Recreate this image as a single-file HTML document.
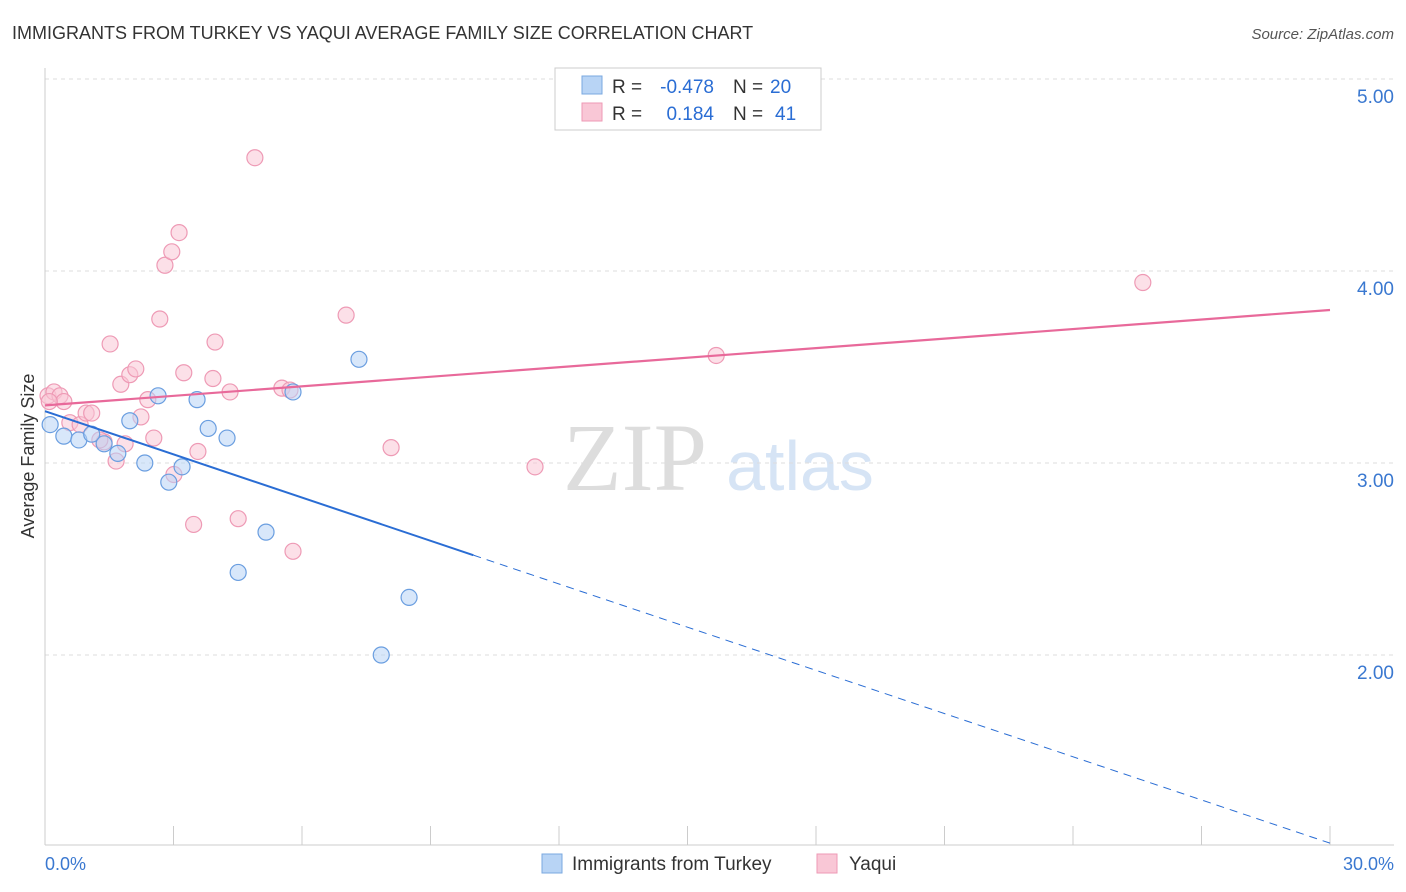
<!DOCTYPE html>
<html><head><meta charset="utf-8"><style>
body{margin:0;background:#fff;font-family:"Liberation Sans",sans-serif;overflow:hidden;}
#c{position:relative;width:1406px;height:892px;overflow:hidden;}
svg{display:block;}
</style></head><body>
<div id="c">
<svg id="s" width="1406" height="892">
<text x="12" y="39" font-size="18" fill="#333">IMMIGRANTS FROM TURKEY VS YAQUI AVERAGE FAMILY SIZE CORRELATION CHART</text>
<text x="1394" y="39" font-size="15" fill="#555" font-style="italic" text-anchor="end">Source: ZipAtlas.com</text>
<text x="635" y="490" font-size="96" fill="#ddd" font-family="Liberation Serif" text-anchor="middle">ZIP</text>
<text x="800" y="490" font-size="70" fill="#d6e4f5" text-anchor="middle">atlas</text>
<text x="34" y="456" font-size="18" fill="#333" text-anchor="middle" transform="rotate(-90 34 456)">Average Family Size</text>
<g id="grid"></g><g id="marks"></g>
<g>
<rect x="555" y="68" width="266" height="62" fill="#fff" stroke="#ccc"/>
<rect x="582" y="76" width="20" height="18" fill="#b8d4f5" stroke="#7aa8e0"/>
<rect x="582" y="103" width="20" height="18" fill="#f9c7d6" stroke="#ee9ab5"/>
<text x="612" y="93" font-size="19" fill="#333">R =</text>
<text x="714" y="93" font-size="19" fill="#2a6dd4" text-anchor="end">-0.478</text>
<text x="733" y="93" font-size="19" fill="#333">N =</text>
<text x="770" y="93" font-size="19" fill="#2a6dd4">20</text>
<text x="612" y="120" font-size="19" fill="#333">R =</text>
<text x="714" y="120" font-size="19" fill="#2a6dd4" text-anchor="end">0.184</text>
<text x="733" y="120" font-size="19" fill="#333">N =</text>
<text x="775" y="120" font-size="19" fill="#2a6dd4">41</text>
</g>
<g>
<rect x="542" y="854" width="20" height="19" fill="#b8d4f5" stroke="#7aa8e0"/>
<text x="572" y="870" font-size="19" fill="#333">Immigrants from Turkey</text>
<rect x="817" y="854" width="20" height="19" fill="#f9c7d6" stroke="#ee9ab5"/>
<text x="849" y="870" font-size="19" fill="#333">Yaqui</text>
</g>
<text x="45" y="870" font-size="18" fill="#3a78d0">0.0%</text>
<text x="1394" y="870" font-size="18" fill="#3a78d0" text-anchor="end">30.0%</text>
</svg></div>
<script>
const yTicks=[5,4,3,2];
const yTickLabels=["5.00","4.00","3.00","2.00"];
const blueX=[0.12,0.44,0.79,1.09,1.38,1.7,1.98,2.33,2.64,2.89,3.2,3.55,3.81,4.25,4.51,5.16,5.79,7.33,7.85,8.5];
const blueY=[3.2,3.14,3.12,3.15,3.1,3.05,3.22,3.0,3.35,2.9,2.98,3.33,3.18,3.13,2.43,2.64,3.37,3.54,2.0,2.3];
const pinkX=[0.07,0.21,0.35,0.44,0.58,0.82,0.96,1.09,1.38,1.52,1.66,1.77,1.87,1.98,2.12,2.24,2.4,2.54,2.68,2.8,2.96,3.01,3.13,3.24,3.47,3.57,3.92,3.97,4.32,4.51,4.9,5.53,5.72,5.79,7.03,8.08,11.44,15.67,25.63,0.1,1.28];
const pinkY=[3.35,3.37,3.35,3.32,3.21,3.2,3.26,3.26,3.11,3.62,3.01,3.41,3.1,3.46,3.49,3.24,3.33,3.13,3.75,4.03,4.1,2.94,4.2,3.47,2.68,3.06,3.44,3.63,3.37,2.71,4.59,3.39,3.38,2.54,3.77,3.08,2.98,3.56,3.94,3.32,3.12];
const blueTrend=[3.27,-0.225];const pinkTrend=[3.3,0.0497];
const X=v=>45+v/30*1285, Y=v=>79+(5-v)*192;
const NS="http://www.w3.org/2000/svg";
const g=document.getElementById('grid'),m=document.getElementById('marks');
function mk(p,tag,a){const e=document.createElementNS(NS,tag);for(const k in a)e.setAttribute(k,a[k]);p.appendChild(e);return e;}
yTicks.forEach((t,i)=>{
 const l=mk(g,'line',{x1:45,x2:1394,y1:Y(t),y2:Y(t),stroke:'#ddd','stroke-dasharray':'4,4'});
 
 
 const tx=mk(g,'text',{x:1394,y:Y(t)+24,'font-size':19,fill:'#3a78d0','text-anchor':'end'});tx.textContent=yTickLabels[i];
 
 
});
mk(g,'line',{x1:45,x2:45,y1:68,y2:845,stroke:'#ccc'});
mk(g,'line',{x1:45,x2:1394,y1:845,y2:845,stroke:'#ccc'});
for(let i=0;i<=10;i++){const t=mk(g,'line',{x1:X(i*3),x2:X(i*3),y1:826,y2:845,stroke:'#ccc'});
 
 }
function dots(xs,ys,f,s,n){xs.forEach((x,i)=>{const c=mk(m,'circle',{cx:X(x),cy:Y(ys[i]),r:8,fill:f,'fill-opacity':0.55,stroke:s,'stroke-width':1.2});
 
 });}
dots(pinkX,pinkY,'#f9c7d6','#ee9ab5','yaqui-point');
dots(blueX,blueY,'#b8d4f5','#6a9ee0','turkey-point');
const bl=v=>blueTrend[0]+blueTrend[1]*v/3;
let e=mk(m,'line',{x1:X(0),y1:Y(bl(0)),x2:X(10),y2:Y(bl(10)),stroke:'#2a6dd4','stroke-width':2});


e=mk(m,'line',{x1:X(10),y1:Y(bl(10)),x2:X(30),y2:Y(bl(30)),stroke:'#2a6dd4','stroke-width':1,'stroke-dasharray':'8,6'});


const pl=v=>pinkTrend[0]+pinkTrend[1]*v/3;
e=mk(m,'line',{x1:X(0),y1:Y(pl(0)),x2:X(30),y2:Y(pl(30)),stroke:'#e8699a','stroke-width':2.2});


</script></body></html>
